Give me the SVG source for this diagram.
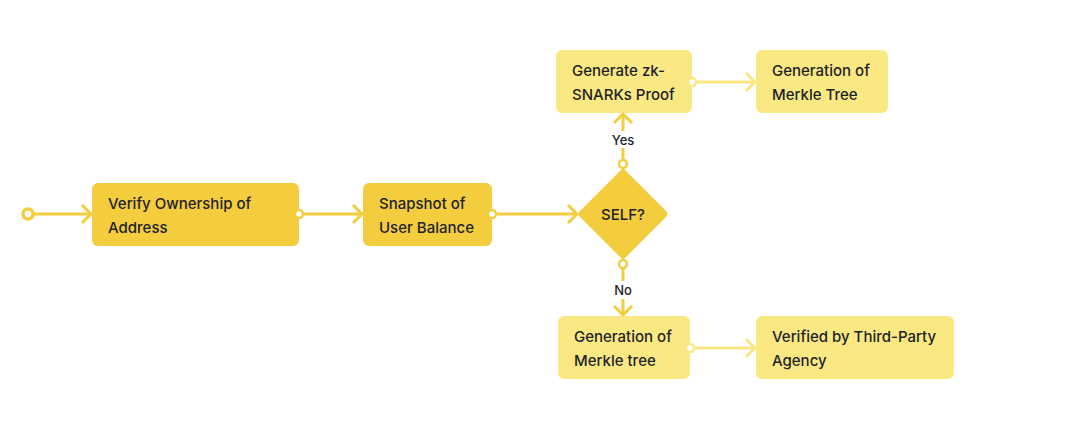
<svg xmlns="http://www.w3.org/2000/svg" width="1088" height="421" viewBox="0 0 1088 421">
<style>
.dark{fill:#F4CD3F}
.light{fill:#FAE983}
.t{font-family:Inter,"Noto Sans","Liberation Sans",sans-serif;font-size:15px;font-weight:500;fill:#1E2329}
.lbl{font-family:Inter,"Noto Sans","Liberation Sans",sans-serif;font-size:13px;font-weight:500;fill:#1E2329;text-anchor:middle}
.cd{stroke:#F4CD3F;stroke-width:3;fill:none}
.cl{stroke:#FAE983;stroke-width:3;fill:none}
.dotd{stroke:#F4CD3F;stroke-width:2.5;fill:#fff}
.dotl{stroke:#FAE983;stroke-width:2.5;fill:#fff}
</style>
<rect width="1088" height="421" fill="#fff"/>
<g id="verify">
<rect class="dark" x="92" y="183" width="207" height="63" rx="6"/>
<text class="t" x="108" y="209">Verify Ownership of</text>
<text class="t" x="108" y="233">Address</text>
</g>
<g id="snapshot">
<rect class="dark" x="363" y="183" width="129" height="63" rx="6"/>
<text class="t" x="379" y="209">Snapshot of</text>
<text class="t" x="379" y="233">User Balance</text>
</g>
<g id="self">
<path class="dark" d="M623,168 L666,211 Q669,214 666,217 L623,260 L580,217 Q577,214 580,211 Z"/>
<text class="t" x="623" y="220" text-anchor="middle">SELF?</text>
</g>
<g id="zk">
<rect class="light" x="556" y="50" width="136" height="63" rx="6"/>
<text class="t" x="572" y="76">Generate zk-</text>
<text class="t" x="572" y="100">SNARKs Proof</text>
</g>
<g id="merkle1">
<rect class="light" x="756" y="50" width="132" height="63" rx="6"/>
<text class="t" x="772" y="76">Generation of</text>
<text class="t" x="772" y="100">Merkle Tree</text>
</g>
<g id="merkle2">
<rect class="light" x="558" y="316" width="132" height="63" rx="6"/>
<text class="t" x="574" y="342">Generation of</text>
<text class="t" x="574" y="366">Merkle tree</text>
</g>
<g id="thirdparty">
<rect class="light" x="756" y="316" width="198" height="63" rx="6"/>
<text class="t" x="772" y="342">Verified by Third-Party</text>
<text class="t" x="772" y="366">Agency</text>
</g>
<g id="connectors">
<line class="cd" x1="32" y1="214" x2="91" y2="214"/>
<polyline class="cd" points="82,205 91,214 82,223"/>
<circle cx="28" cy="214" r="5" fill="#fff" stroke="#F4CD3F" stroke-width="3.5"/>
<line class="cd" x1="303" y1="214" x2="362" y2="214"/>
<polyline class="cd" points="353,205 362,214 353,223"/>
<circle class="dotd" cx="299" cy="214" r="4"/>
<line class="cd" x1="496" y1="214" x2="577" y2="214"/>
<polyline class="cd" points="568,205 577,214 568,223"/>
<circle class="dotd" cx="492" cy="214" r="4"/>
<line class="cd" x1="623" y1="160" x2="623" y2="148"/>
<line class="cd" x1="623" y1="131" x2="623" y2="114"/>
<polyline class="cd" points="614,123 623,114 632,123"/>
<text class="lbl" x="623" y="145">Yes</text>
<circle class="dotd" cx="623" cy="164" r="4"/>
<line class="cd" x1="623" y1="268" x2="623" y2="281"/>
<line class="cd" x1="623" y1="299" x2="623" y2="315"/>
<polyline class="cd" points="614,306 623,315 632,306"/>
<text class="lbl" x="623" y="295">No</text>
<circle class="dotd" cx="623" cy="264" r="4"/>
<line class="cl" x1="696" y1="82" x2="755" y2="82"/>
<polyline class="cl" points="746,73 755,82 746,91"/>
<circle class="dotl" cx="692" cy="82" r="4"/>
<line class="cl" x1="694" y1="348" x2="755" y2="348"/>
<polyline class="cl" points="746,339 755,348 746,357"/>
<circle class="dotl" cx="690" cy="348" r="4"/>
</g>
</svg>
